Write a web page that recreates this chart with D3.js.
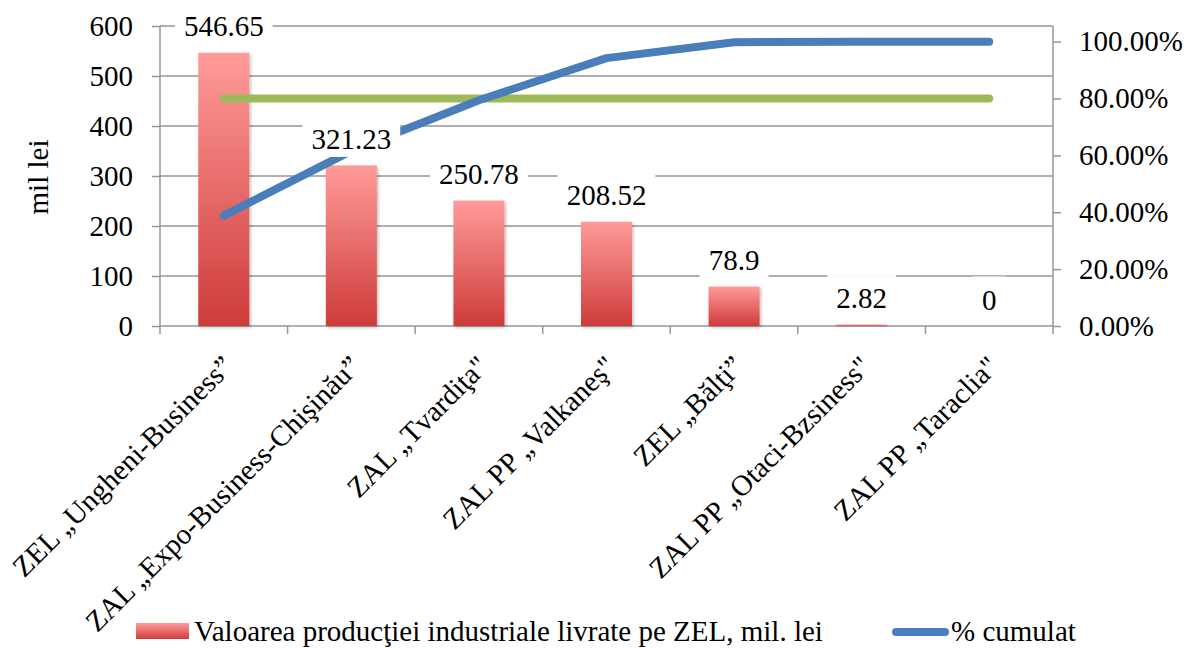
<!DOCTYPE html>
<html>
<head>
<meta charset="utf-8">
<script src="https://cdnjs.cloudflare.com/ajax/libs/d3/7.8.5/d3.min.js"></script>
<style>
  body { margin: 0; background: #fff; }
  text { font-family: "Liberation Serif", "Times New Roman", serif; fill: #000; }
</style>
</head>
<body>
<div id="chart-area"></div>
<script>
// Data
var categories = [
  "ZEL \u201EUngheni-Business\u201D",
  "ZAL \u201EExpo-Business-Chi\u015Fin\u0103u\u201D",
  "ZAL \u201ETvardi\u0163a\"",
  "ZAL PP \u201EValkane\u015F\"",
  "ZEL \u201EB\u0103l\u0163i\u201D",
  "ZAL PP \u201EOtaci-Bzsiness\"",
  "ZAL PP \u201ETaraclia\""
];
var values = [546.65, 321.23, 250.78, 208.52, 78.9, 2.82, 0];
var cumulative = [0.388, 0.616, 0.794, 0.942, 0.998, 1.0, 1.0];
var threshold = [0.8, 0.8, 0.8, 0.8, 0.8, 0.8, 0.8];
var leftTicks = [0, 100, 200, 300, 400, 500, 600];
var rightTicks = [0, 0.2, 0.4, 0.6, 0.8, 1.0];
var barLegend = "Valoarea produc\u0163iei industriale livrate pe ZEL, mil. lei";
var lineLegend = "% cumulat";

var margin = { left: 160, right: 131, top: 26, bottom: 322 },
  width = 1184 - margin.left - margin.right,
  height = 648 - margin.top - margin.bottom;
var fs = "29px";

var svg = d3
  .select("#chart-area")
  .append("svg")
  .attr("width", 1184)
  .attr("height", 648);

var defs = svg.append("defs");
var grad = defs
  .append("linearGradient")
  .attr("id", "barGrad")
  .attr("x1", 0).attr("y1", 0)
  .attr("x2", 0).attr("y2", 1);
grad.append("stop").attr("offset", "0%").attr("stop-color", "#ff9b99");
grad.append("stop").attr("offset", "100%").attr("stop-color", "#cd3c3a");

var shadow = defs.append("filter").attr("id", "shadow")
  .attr("x", "-20%").attr("y", "-20%").attr("width", "140%").attr("height", "140%");
shadow.append("feDropShadow")
  .attr("dx", 1.5).attr("dy", 1.5).attr("stdDeviation", 1.5)
  .attr("flood-color", "#000").attr("flood-opacity", 0.25);

var g = svg
  .append("g")
  .attr("transform", "translate(" + margin.left + ", " + margin.top + ")");

// Scales
var x = d3.scaleBand()
  .domain(categories)
  .range([0, width])
  .paddingInner(0.6)
  .paddingOuter(0.3);
var y = d3.scaleLinear().domain([0, 600]).range([height, 0]);
var y2 = d3.scaleLinear().domain([0, 1.055]).range([height, 0]);
var gap = (x.step() - x.bandwidth()) / 2;

// Gridlines
g.selectAll(".grid")
  .data(leftTicks)
  .enter()
  .append("line")
  .attr("class", "grid")
  .attr("x1", 0)
  .attr("x2", width)
  .attr("y1", function(d) { return y(d); })
  .attr("y2", function(d) { return y(d); })
  .attr("stroke", "#969696")
  .attr("stroke-width", 1.5);

// Y-axis left
var yAxis = g.append("g")
  .attr("class", "y axis")
  .call(d3.axisLeft(y).tickValues(leftTicks).tickSize(8).tickPadding(19));
// Y-axis right
var y2Axis = g.append("g")
  .attr("class", "y2 axis")
  .attr("transform", "translate(" + width + ",0)")
  .call(d3.axisRight(y2).tickValues(rightTicks).tickSize(8).tickPadding(18)
    .tickFormat(d3.format(".2%")));

svg.selectAll(".axis").attr("font-family", null).attr("font-size", null);
svg.selectAll(".axis path, .axis line")
  .attr("stroke", "#969696")
  .attr("stroke-width", 1.5);
svg.selectAll(".axis path").attr("d", function() {
  return "M0,0V" + height;
});
svg.selectAll(".axis text")
  .attr("font-size", fs)
  .attr("fill", "#000");

// X-axis ticks between categories
var xTicks = categories.map(function(c) { return x(c) - gap; }).concat([width]);
g.selectAll(".xtick")
  .data(xTicks)
  .enter()
  .append("line")
  .attr("class", "xtick")
  .attr("x1", function(d) { return d; })
  .attr("x2", function(d) { return d; })
  .attr("y1", height)
  .attr("y2", height + 8)
  .attr("stroke", "#969696")
  .attr("stroke-width", 1.5);

// Category labels
g.selectAll(".catLabel")
  .data(categories)
  .enter()
  .append("text")
  .attr("class", "catLabel")
  .attr("transform", function(d) {
    return "translate(" + (x(d) + x.bandwidth() / 2 + 11) + "," + (height + 42) + ") rotate(-45)";
  })
  .attr("text-anchor", "end")
  .attr("font-size", fs)
  .text(function(d) { return d; });

// Bars
g.selectAll(".bar")
  .data(values)
  .enter()
  .append("rect")
  .attr("class", "bar")
  .attr("x", function(d, i) { return x(categories[i]); })
  .attr("width", x.bandwidth())
  .attr("y", function(d) { return y(d); })
  .attr("height", function(d) { return height - y(d); })
  .attr("fill", "url(#barGrad)")
  .attr("filter", "url(#shadow)");

// Lines
var line = d3.line()
  .x(function(d, i) { return x(categories[i]) + x.bandwidth() / 2; })
  .y(function(d) { return y2(d); });

g.append("path")
  .attr("class", "threshold")
  .attr("fill", "none")
  .attr("stroke", "#9bbb59")
  .attr("stroke-width", 8)
  .attr("stroke-linecap", "round")
  .attr("d", line(threshold));

g.append("path")
  .attr("class", "line")
  .attr("fill", "none")
  .attr("stroke", "#4a7ebb")
  .attr("stroke-width", 8)
  .attr("stroke-linecap", "round")
  .attr("stroke-linejoin", "round")
  .attr("d", line(cumulative));

// Data labels with white boxes
var labels = g.selectAll(".dataLabel")
  .data(values)
  .enter()
  .append("g")
  .attr("class", "dataLabel")
  .attr("transform", function(d, i) {
    return "translate(" + (x(categories[i]) + x.bandwidth() / 2) + "," + (y(d) - 26.5) + ")";
  });
labels.append("rect").attr("fill", "#fff");
labels.append("text")
  .attr("text-anchor", "middle")
  .attr("dy", "0.35em")
  .attr("font-size", fs)
  .text(function(d) { return d; });
labels.each(function() {
  var t = d3.select(this).select("text").node().getBBox();
  d3.select(this).select("rect")
    .attr("x", t.x - 9)
    .attr("width", t.width + 18)
    .attr("y", -23)
    .attr("height", 41);
});

// Y label
svg.append("text")
  .attr("transform", "translate(38," + (margin.top + 151) + ") rotate(-90)")
  .attr("text-anchor", "middle")
  .attr("dy", "0.35em")
  .attr("font-size", fs)
  .text("mil lei");

// Legend
var legend = svg.append("g").attr("class", "legend");
legend.append("rect")
  .attr("x", 136)
  .attr("y", 623)
  .attr("width", 53)
  .attr("height", 16)
  .attr("fill", "url(#barGrad)");
legend.append("text")
  .attr("x", 194)
  .attr("y", 631)
  .attr("dy", "0.35em")
  .attr("font-size", fs)
  .text(barLegend);
legend.append("line")
  .attr("x1", 896).attr("x2", 945)
  .attr("y1", 632).attr("y2", 632)
  .attr("stroke", "#4a7ebb")
  .attr("stroke-width", 8)
  .attr("stroke-linecap", "round");
legend.append("text")
  .attr("x", 951)
  .attr("y", 631)
  .attr("dy", "0.35em")
  .attr("font-size", fs)
  .text(lineLegend);
</script>
</body>
</html>
